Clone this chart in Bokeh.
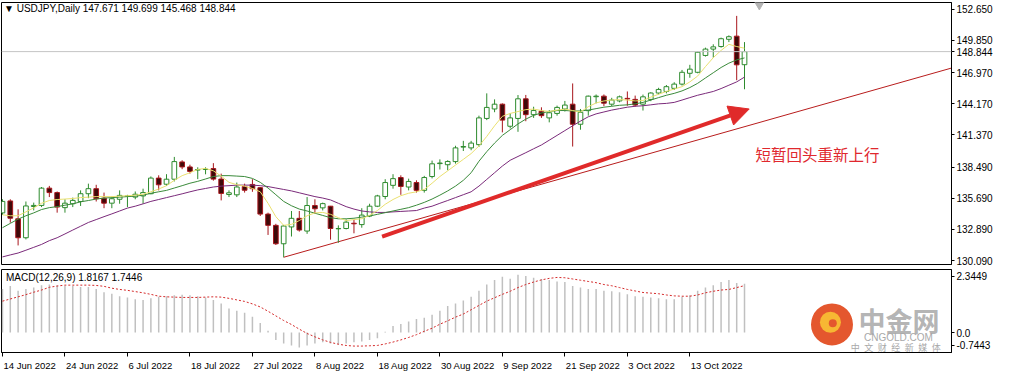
from bokeh.plotting import figure
from bokeh.layouts import column
from bokeh.models import (Range1d, FixedTicker, PrintfTickFormatter, Span, Label,
                          Arrow, NormalHead, ColumnDataSource)
from bokeh.embed import file_html
from bokeh.resources import INLINE

# ---------------- data ----------------
opens = [134.38, 135.45, 133.85, 132.15, 134.95, 135.05, 136.60, 136.20, 134.85, 135.20,
         135.40, 136.10, 136.55, 135.70, 135.25, 135.60, 135.85, 135.80, 135.90, 136.10,
         137.50, 136.95, 137.40, 138.95, 138.50, 138.22, 138.27, 138.35, 137.41, 136.03,
         136.00, 136.75, 136.93, 136.64, 134.27, 133.26, 131.61, 133.12, 133.89, 132.75,
         135.04, 134.83, 134.98, 132.95, 132.98, 133.45, 133.33, 134.10, 134.98, 135.85,
         136.85, 137.55, 136.70, 137.10, 136.40, 137.64, 138.80, 138.70, 138.98, 140.28,
         140.21, 140.50, 142.85, 143.70, 144.13, 142.15, 142.85, 144.61, 143.19, 143.50,
         142.90, 143.30, 143.70, 144.13, 142.33, 143.55, 144.80, 144.85, 144.13, 144.42,
         144.65, 144.56, 144.13, 144.56, 145.13, 145.27, 145.55, 145.93, 146.90, 146.99,
         148.50, 149.07, 149.30, 149.95, 150.23, 147.671]
highs = [135.60, 135.60, 134.70, 135.40, 135.30, 136.70, 136.80, 136.30, 135.60, 135.75,
         136.40, 137.00, 136.90, 136.20, 135.85, 136.40, 136.00, 136.30, 136.55, 137.65,
         137.75, 137.85, 139.40, 139.10, 138.70, 138.47, 138.47, 138.84, 137.90, 136.40,
         137.10, 137.00, 137.40, 136.70, 134.40, 133.40, 133.30, 134.55, 134.55, 135.80,
         135.60, 135.30, 135.00, 133.26, 133.80, 133.75, 134.80, 135.20, 136.00, 137.40,
         137.85, 137.75, 137.45, 137.30, 137.70, 139.07, 139.18, 139.10, 140.40, 140.84,
         140.84, 143.10, 145.10, 144.56, 144.20, 143.30, 144.95, 144.96, 143.90, 143.85,
         143.60, 144.00, 144.42, 145.99, 143.70, 144.90, 145.00, 145.00, 144.70, 144.90,
         145.27, 144.90, 144.99, 145.20, 145.60, 145.85, 146.10, 147.20, 147.66, 148.86,
         149.20, 149.50, 150.10, 150.30, 152.05, 149.699]
lows = [134.20, 133.50, 131.46, 132.00, 134.60, 134.90, 135.80, 134.40, 134.40, 134.90,
        135.00, 135.70, 135.40, 134.80, 134.80, 135.20, 134.90, 135.60, 135.20, 136.05,
        136.40, 136.80, 137.20, 138.30, 137.90, 137.41, 137.84, 137.27, 135.50, 135.80,
        135.80, 136.20, 136.27, 134.10, 132.40, 131.50, 130.40, 132.26, 132.70, 132.50,
        134.30, 134.60, 131.98, 131.70, 132.90, 132.55, 133.05, 134.00, 134.90, 135.60,
        136.55, 136.00, 136.40, 136.20, 136.20, 137.47, 138.27, 138.20, 138.80, 139.93,
        140.00, 140.30, 142.70, 143.41, 141.60, 141.95, 141.65, 142.60, 142.90, 142.90,
        142.50, 143.10, 143.47, 140.33, 141.84, 143.10, 144.20, 143.95, 143.95, 144.30,
        143.99, 143.90, 143.56, 144.40, 145.00, 145.10, 145.40, 145.80, 146.50, 146.90,
        148.40, 148.30, 149.20, 149.70, 146.28, 145.468]
closes = [135.41, 133.90, 132.15, 135.00, 135.05, 136.60, 136.20, 134.90, 135.25, 135.50,
          136.10, 136.55, 135.65, 135.25, 135.65, 135.95, 135.90, 136.05, 136.20, 137.50,
          136.90, 137.40, 138.98, 138.50, 138.10, 138.27, 138.30, 137.41, 136.12, 136.18,
          136.70, 136.41, 136.55, 134.27, 133.26, 131.61, 133.20, 133.89, 132.84, 135.04,
          134.75, 135.21, 132.98, 132.98, 133.55, 133.40, 134.18, 134.98, 135.90, 137.10,
          137.45, 136.75, 137.20, 136.40, 137.55, 138.78, 138.85, 138.99, 140.21, 140.33,
          140.64, 142.90, 143.84, 144.13, 142.70, 142.90, 144.61, 143.19, 143.56, 143.10,
          143.36, 143.84, 144.05, 142.33, 143.40, 144.85, 144.85, 144.22, 144.50, 144.79,
          144.60, 144.05, 144.79, 145.13, 145.45, 145.70, 145.93, 146.99, 147.27, 148.79,
          149.07, 149.27, 150.00, 150.18, 147.66, 148.844]

ma_fast = [134.21, 134.12, 134.12, 134.47, 134.83, 135.24, 135.49, 135.58, 135.62, 135.67,
           135.75, 135.79, 135.84, 135.84, 135.84, 135.88, 135.92, 135.97, 136.05, 136.27,
           136.52, 136.82, 137.30, 137.72, 137.98, 138.28, 138.37, 138.15, 137.68, 137.12,
           136.91, 136.78, 136.57, 136.27, 135.24, 134.04, 133.26, 133.35, 133.69, 134.12,
           134.38, 134.42, 134.25, 133.95, 133.69, 133.78, 133.86, 134.16, 134.59, 135.15,
           135.58, 135.92, 136.14, 136.27, 136.48, 137.04, 137.64, 138.15, 138.67, 139.18,
           139.70, 140.38, 141.24, 142.19, 143.04, 143.30, 143.47, 143.64, 143.69, 143.56,
           143.47, 143.60, 143.69, 143.56, 143.43, 143.90, 144.24, 144.42, 144.50, 144.54,
           144.50, 144.42, 144.46, 144.76, 145.02, 145.27, 145.49, 145.70, 146.13, 146.65,
           147.50, 148.30, 148.95, 149.50, 149.30, 149.15]
ma_mid = [133.05, 133.44, 133.82, 134.12, 134.38, 134.68, 134.85, 134.94, 135.07, 135.19,
          135.37, 135.49, 135.62, 135.71, 135.75, 135.79, 135.84, 135.88, 135.97, 136.14,
          136.27, 136.40, 136.61, 136.82, 137.04, 137.21, 137.42, 137.64, 137.72, 137.72,
          137.68, 137.64, 137.47, 137.12, 136.61, 136.01, 135.41, 135.02, 134.72, 134.55,
          134.35, 134.15, 133.95, 133.85, 133.85, 133.90, 134.00, 134.10, 134.25, 134.40,
          134.55, 134.70, 134.85, 135.07, 135.32, 135.62, 135.97, 136.35, 136.78, 137.30,
          137.98, 139.01, 139.87, 140.64, 141.33, 141.84, 142.36, 142.79, 143.13, 143.34,
          143.47, 143.56, 143.56, 143.52, 143.52, 143.60, 143.73, 143.86, 143.94, 144.03,
          144.07, 144.16, 144.29, 144.50, 144.72, 144.93, 145.10, 145.32, 145.62, 146.00,
          146.48, 146.95, 147.42, 147.81, 148.10, 148.28]
ma_slow = [130.43, 130.61, 130.78, 131.03, 131.29, 131.55, 131.89, 132.15, 132.49, 132.84,
           133.18, 133.52, 133.78, 134.04, 134.29, 134.55, 134.81, 134.98, 135.19, 135.41,
           135.58, 135.75, 135.92, 136.09, 136.27, 136.44, 136.57, 136.70, 136.78, 136.82,
           136.87, 136.87, 136.87, 136.82, 136.74, 136.61, 136.48, 136.35, 136.18, 136.01,
           135.84, 135.71, 135.54, 135.24, 134.94, 134.72, 134.55, 134.47, 134.42, 134.42,
           134.47, 134.51, 134.55, 134.59, 134.81, 134.98, 135.24, 135.49, 135.75, 136.01,
           136.27, 136.78, 137.38, 137.98, 138.58, 139.10, 139.44, 139.78, 140.13, 140.47,
           140.90, 141.33, 141.76, 142.19, 142.61, 143.00, 143.26, 143.43, 143.60, 143.73,
           143.86, 143.94, 143.99, 144.07, 144.16, 144.20, 144.29, 144.50, 144.72, 144.93,
           145.10, 145.27, 145.53, 145.83, 146.13, 146.56]

macd_main = [1.615, 1.729, 1.557, 1.615, 1.672, 1.763, 1.786, 1.763, 1.729, 1.729,
             1.694, 1.694, 1.615, 1.500, 1.443, 1.351, 1.305, 1.237, 1.214, 1.271,
             1.328, 1.351, 1.385, 1.409, 1.385, 1.351, 1.305, 1.214, 1.077, 0.893,
             0.813, 0.733, 0.583, 0.354, 0.068, -0.276, -0.413, -0.482, -0.562, -0.482,
             -0.413, -0.367, -0.413, -0.448, -0.413, -0.367, -0.333, -0.276, -0.218, 0.030,
             0.240, 0.320, 0.412, 0.503, 0.549, 0.663, 0.813, 0.985, 1.077, 1.191,
             1.328, 1.557, 1.786, 1.958, 2.072, 2.000, 2.152, 2.107, 2.038, 1.992,
             1.958, 1.900, 1.878, 1.729, 1.672, 1.615, 1.615, 1.557, 1.535, 1.500,
             1.420, 1.351, 1.328, 1.305, 1.271, 1.237, 1.237, 1.328, 1.385, 1.557,
             1.672, 1.763, 1.878, 1.958, 1.843, 1.8167]
macd_signal = [1.167, 1.248, 1.328, 1.409, 1.500, 1.580, 1.683, 1.729, 1.763, 1.763,
               1.763, 1.763, 1.752, 1.718, 1.649, 1.603, 1.569, 1.523, 1.477, 1.420,
               1.351, 1.328, 1.317, 1.305, 1.305, 1.305, 1.317, 1.328, 1.317, 1.271,
               1.214, 1.157, 1.065, 0.951, 0.790, 0.618, 0.446, 0.297, 0.125, -0.036,
               -0.162, -0.276, -0.367, -0.436, -0.482, -0.505, -0.505, -0.494, -0.482, -0.425,
               -0.356, -0.276, -0.184, -0.081, 0.045, 0.160, 0.309, 0.435, 0.572, 0.687,
               0.847, 1.008, 1.167, 1.294, 1.420, 1.535, 1.672, 1.786, 1.878, 1.958,
               2.015, 2.049, 2.038, 1.992, 1.946, 1.900, 1.855, 1.786, 1.740, 1.672,
               1.603, 1.546, 1.489, 1.466, 1.443, 1.397, 1.363, 1.351, 1.351, 1.397,
               1.477, 1.535, 1.580, 1.603, 1.672, 1.7446]

price_ticks = [130.09, 132.89, 135.69, 138.49, 141.37, 144.17, 146.97, 149.85, 152.65]
date_tick_bars = [0, 8, 16, 24, 32, 40, 48, 56, 64, 72, 80, 88]
date_tick_labels = ["14 Jun 2022", "24 Jun 2022", "6 Jul 2022", "18 Jul 2022", "27 Jul 2022",
                    "8 Aug 2022", "18 Aug 2022", "30 Aug 2022", "9 Sep 2022", "21 Sep 2022",
                    "3 Oct 2022", "13 Oct 2022"]
macd_tick_vals = [2.09, 0.0, -0.47]
macd_tick_labels = ["2.3449", "0.0", "-0.7443"]
last_price = 148.844
title_text = "\u25bc USDJPY,Daily  147.671 149.699 145.468 148.844"
macd_text = "MACD(12,26,9) 1.8167 1.7446"
note_text = "短暂回头重新上行"
wm_title = "中金网"
wm_site = "CNGOLD.COM"
wm_slogan = "\u2002".join("中文财经新媒体")

# annotation anchors (bar index, price)
trend_start = (36, 130.40)
trend_end = (121.5, 147.37)
arrow_start = (48.6, 132.26)
arrow_end = (95.6, 143.70)

# ---------------- layout constants ----------------
FONT = "Liberation Sans"
BULL_LINE = "#2E8B2E"
BEAR_LINE = "#A8161C"
BEAR_FILL = "#3E0A0A"
W = 995
BORDER_L = 1
BORDER_R = 44
X0, X1 = -0.125, 121.5
FRAME_W = W - BORDER_L - BORDER_R
PX_PER_BAR = FRAME_W / (X1 - X0)
DATE_FONT_PX = 9.5

# approximate advance widths (em) of Liberation Sans, used to left-align date labels
CHAR_EM = {" ": 0.278, "J": 0.5, "u": 0.556, "n": 0.556, "l": 0.222, "A": 0.667,
           "g": 0.556, "S": 0.667, "e": 0.556, "p": 0.556, "O": 0.778, "c": 0.5, "t": 0.278}


def text_px(s, size):
    return sum(CHAR_EM.get(ch, 0.556) for ch in s) * size


n = len(closes)
bars = list(range(n))


def make_src(idx):
    return ColumnDataSource(dict(
        x=idx,
        h=[highs[i] for i in idx],
        l=[lows[i] for i in idx],
        top=[max(opens[i], closes[i]) for i in idx],
        bottom=[min(opens[i], closes[i]) for i in idx],
    ))


bull_src = make_src([i for i in bars if closes[i] >= opens[i]])
bear_src = make_src([i for i in bars if closes[i] < opens[i]])

xr = Range1d(X0, X1)

# ---------------- main price panel ----------------
p = figure(width=W, height=268, x_range=xr, y_range=Range1d(129.75, 153.25),
           toolbar_location=None, output_backend="svg",
           x_axis_location=None, y_axis_location="right",
           min_border_left=BORDER_L, min_border_right=BORDER_R, min_border_top=2,
           min_border_bottom=4)
p.grid.visible = False
p.outline_line_color = "black"
p.background_fill_color = "white"
p.border_fill_color = "white"
ya = p.yaxis[0]
ya.ticker = FixedTicker(ticks=price_ticks + [last_price])
ya.formatter = PrintfTickFormatter(format="%.3f")
ya.major_label_text_font = FONT
ya.major_label_text_font_size = "10px"
ya.major_label_text_color = "black"
ya.major_tick_out = 3
ya.major_tick_in = 0
ya.minor_tick_out = 0
ya.minor_tick_in = 0
ya.major_label_standoff = 2
ya.axis_line_color = "black"
ya.major_tick_line_color = "black"

p.add_layout(Span(location=last_price, dimension="width", line_color="#C4C4C4", line_width=1))

# trend line
p.segment(x0=[trend_start[0]], y0=[trend_start[1]], x1=[trend_end[0]], y1=[trend_end[1]],
          line_color="#B81C1C", line_width=1)

# candles
p.segment(x0="x", y0="h", x1="x", y1="l", source=bull_src, line_color=BULL_LINE, line_width=1)
p.segment(x0="x", y0="h", x1="x", y1="l", source=bear_src, line_color=BEAR_LINE, line_width=1)
p.vbar(x="x", width=0.6, top="top", bottom="bottom", source=bull_src,
       fill_color="white", line_color=BULL_LINE, line_width=1)
p.vbar(x="x", width=0.6, top="top", bottom="bottom", source=bear_src,
       fill_color=BEAR_FILL, line_color=BEAR_LINE, line_width=1)

# moving averages
p.line(bars, ma_slow, line_color="#7A2A7A", line_width=1)
p.line(bars, ma_mid, line_color="#3A8A3A", line_width=1)
p.line(bars, ma_fast, line_color="#EAE070", line_width=1)

p.add_layout(Arrow(x_start=arrow_start[0], y_start=arrow_start[1],
                   x_end=arrow_end[0], y_end=arrow_end[1],
                   line_color="#E02A2A", line_width=4,
                   end=NormalHead(size=20, fill_color="#E02A2A", line_color="#E02A2A")))

# chart shift marker
p.scatter(x=[96.9], y=[153.05], marker="inverted_triangle", size=9,
          fill_color="#B4B4B4", line_color="#B4B4B4")

p.add_layout(Label(x=0.2, y=152.72, text=title_text, text_font=FONT, text_font_size="10px",
                   text_color="black", text_baseline="middle", text_align="left"))
p.add_layout(Label(x=96.4, y=139.7, text=note_text, text_font="Noto Sans CJK SC",
                   text_font_size="15.5px", text_color="#E0282E", text_baseline="middle",
                   text_align="left"))

# ---------------- MACD panel ----------------
q = figure(width=W, height=105, x_range=xr, y_range=Range1d(-0.7443, 2.3449),
           toolbar_location=None, output_backend="svg",
           x_axis_location="below", y_axis_location="right",
           min_border_left=BORDER_L, min_border_right=BORDER_R, min_border_top=1,
           min_border_bottom=20)
q.grid.visible = False
q.outline_line_color = "black"
q.background_fill_color = "white"
q.border_fill_color = "white"

qa = q.yaxis[0]
qa.ticker = FixedTicker(ticks=macd_tick_vals)
qa.major_label_overrides = {v: t for v, t in zip(macd_tick_vals, macd_tick_labels)}
qa.major_label_text_font = FONT
qa.major_label_text_font_size = "10px"
qa.major_label_text_color = "black"
qa.major_tick_out = 3
qa.major_tick_in = 0
qa.minor_tick_out = 0
qa.minor_tick_in = 0
qa.major_label_standoff = 2
qa.axis_line_color = "black"

# date labels: centred ticks shifted so each label starts at its bar; bar marks as minor ticks
label_centres = [round(b + (text_px(t, DATE_FONT_PX) / 2 + 1) / PX_PER_BAR, 4)
                 for b, t in zip(date_tick_bars, date_tick_labels)]
xa = q.xaxis[0]
xa.ticker = FixedTicker(ticks=label_centres, minor_ticks=date_tick_bars)
xa.major_label_overrides = {c: t for c, t in zip(label_centres, date_tick_labels)}
xa.major_label_text_font = FONT
xa.major_label_text_font_size = "%.1fpx" % DATE_FONT_PX
xa.major_label_text_color = "black"
xa.major_tick_out = 0
xa.major_tick_in = 0
xa.minor_tick_out = 4
xa.minor_tick_in = 0
xa.minor_tick_line_color = "black"
xa.major_label_standoff = 3
xa.axis_line_color = "black"

# watermark (kept inside the frame)
q.scatter(x=[106.2], y=[0.30], marker="circle", size=42, fill_color="#E4572E", line_color=None)
q.scatter(x=[106.0], y=[0.38], marker="circle", size=21, fill_color="#F7B733", line_color=None)
q.scatter(x=[106.3], y=[0.34], marker="circle", size=8, fill_color="#E4572E", line_color=None)

q.segment(x0=bars, y0=[0] * n, x1=bars, y1=macd_main, line_color="#C0C0C0", line_width=1.5)
q.line(bars, macd_signal, line_color="#D42A2A", line_width=1, line_dash="2 2")

q.add_layout(Label(x=0.45, y=2.03, text=macd_text, text_font=FONT, text_font_size="10px",
                   text_color="black", text_baseline="middle", text_align="left"))
q.add_layout(Label(x=109.6, y=0.46, text=wm_title, text_font="Noto Sans CJK SC",
                   text_font_size="27px", text_font_style="bold", text_color="#ABABAB",
                   text_alpha=0.9, text_baseline="middle", text_align="left"))
q.add_layout(Label(x=110.3, y=-0.17, text=wm_site, text_font=FONT,
                   text_font_size="10px", text_color="#A8A8A8", text_baseline="middle",
                   text_align="left"))
q.add_layout(Label(x=108.6, y=-0.57, text=wm_slogan, text_font="Noto Sans CJK SC",
                   text_font_size="9px", text_color="#A8A8A8", text_baseline="middle",
                   text_align="left"))

layout = column(p, q, spacing=0)
open("out.html", "w").write(file_html(layout, INLINE))
